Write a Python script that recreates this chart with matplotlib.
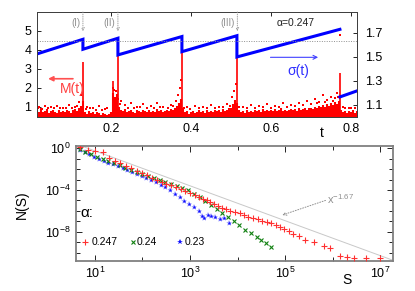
import numpy as np
import matplotlib
matplotlib.use("Agg")
import matplotlib.pyplot as plt
from matplotlib.ticker import FixedLocator, NullFormatter, FuncFormatter

plt.rcParams['font.family'] = ['Liberation Sans', 'DejaVu Sans']
plt.rcParams['mathtext.fontset'] = 'custom'
plt.rcParams['mathtext.rm'] = 'Liberation Sans'
plt.rcParams['mathtext.it'] = 'Liberation Sans:italic'
plt.rcParams['mathtext.sf'] = 'Liberation Sans'

# ---------------- top panel data ----------------
t_base0, t_step = 0.015, 0.005
M_base = [0.8, 0.72, 0.9, 0.7, 0.78, 0.85, 0.68, 0.75, 0.82, 0.7,
          0.66, 0.8, 0.72, 0.76, 0.7, 0.84, 0.74, 0.68, 0.8, 0.86,
          0.75, 0.9, 1.05, 1.3, 0.7, 0.62, 0.75, 0.66, 0.72, 0.6,
          0.7, 0.64, 0.58, 0.66, 0.6, 0.55, 0.62, 0.7, 1.7, 1.5,
          1.65, 1.0, 0.8, 0.75, 0.85, 0.7, 0.78, 0.82, 0.72, 0.68,
          0.8, 0.74, 0.7, 0.83, 0.76, 0.7, 0.8, 0.72, 0.78, 0.7,
          0.85, 0.74, 0.8, 0.72, 0.78, 0.82, 0.76, 0.88, 0.8, 0.95,
          1.05, 1.2, 1.4, 0.9, 0.7, 0.75, 0.62, 0.7, 0.78, 0.66,
          0.72, 0.8, 0.7, 0.75, 0.68, 0.8, 0.72, 0.78, 0.7, 0.84,
          0.74, 0.8, 0.72, 0.86, 0.76, 0.82, 0.9, 0.95, 1.15, 1.35,
          1.2, 0.8, 0.7, 0.76, 0.68, 0.8, 0.72, 0.78, 0.7, 0.82,
          0.75, 0.8, 0.72, 0.85, 0.76, 0.8, 0.74, 0.82, 0.78, 0.86,
          0.74, 0.8, 0.9, 0.78, 0.84, 0.76, 0.82, 0.88, 0.8, 0.85,
          0.78, 0.9, 0.82, 0.86, 0.92, 0.84, 0.9, 0.95, 0.88, 1.0,
          0.92, 1.05, 0.96, 1.1, 1.0, 1.15, 1.05, 1.2, 1.1, 1.25,
          1.15, 1.3, 0.8, 0.7, 0.78, 0.66, 0.74, 0.7, 0.8, 0.68, 0.75]

dot_t = [0.02, 0.035, 0.05, 0.065, 0.08, 0.095, 0.11, 0.12, 0.125, 0.14,
         0.155, 0.17, 0.19, 0.206, 0.208, 0.212, 0.225, 0.235, 0.25, 0.265,
         0.28, 0.3, 0.315, 0.33, 0.35, 0.362, 0.368, 0.372, 0.375, 0.39,
         0.41, 0.43, 0.45, 0.47, 0.49, 0.503, 0.508, 0.512, 0.53, 0.55,
         0.57, 0.59, 0.61, 0.63, 0.65, 0.67, 0.69, 0.71, 0.72, 0.73,
         0.74, 0.75, 0.76, 0.765, 0.78, 0.8, 0.7725,
         0.018, 0.027, 0.042, 0.057, 0.072, 0.088, 0.102, 0.115, 0.138, 0.148,
         0.162, 0.178, 0.186, 0.218, 0.222, 0.242, 0.258, 0.272, 0.29, 0.308,
         0.322, 0.342, 0.356, 0.383, 0.398, 0.42, 0.44, 0.46, 0.48, 0.497,
         0.52, 0.54, 0.56, 0.58, 0.6, 0.62, 0.64, 0.66, 0.68, 0.7,
         0.715, 0.735, 0.755, 0.768, 0.785, 0.795, 0.81]
dot_M = [1.0, 1.05, 0.98, 1.02, 0.95, 1.1, 1.0, 1.25, 1.6, 1.0,
         0.95, 1.05, 0.9, 2.0, 1.9, 1.8, 1.3, 1.1, 1.2, 1.0,
         1.15, 1.05, 1.2, 1.0, 1.1, 1.3, 1.6, 2.0, 2.4, 1.0,
         1.05, 1.0, 1.1, 1.0, 1.15, 1.5, 1.8, 2.2, 1.0, 1.1,
         1.05, 1.15, 1.05, 1.2, 1.1, 1.2, 1.3, 1.4, 1.25, 1.6,
         1.35, 1.5, 1.45, 1.7, 1.0, 0.95, 4.8,
         0.95, 0.88, 0.92, 0.9, 0.93, 0.9, 0.95, 1.05, 0.85, 0.9,
         0.82, 0.8, 0.85, 1.4, 1.15, 0.95, 0.92, 0.98, 0.95, 0.9,
         1.0, 0.95, 1.05, 0.9, 0.85, 0.92, 0.95, 0.9, 1.0, 1.05,
         1.0, 0.92, 0.95, 0.98, 0.95, 1.0, 0.98, 1.05, 1.1, 1.15,
         1.2, 1.25, 1.3, 1.5, 0.9, 0.95, 0.9]

spike_t = [0.13, 0.204, 0.2175, 0.3775, 0.515, 0.7725]
spike_M = [3.37, 2.33, 4.1, 3.85, 4.1, 2.75]

# sigma(t) sawtooth segments
seg_t0 = [0.015, 0.13, 0.2175, 0.3775, 0.515]
seg_s0 = [1.525, 1.564, 1.517, 1.544, 1.50]
seg_t1 = [0.13, 0.2175, 0.3775, 0.515, 0.7725]
seg_s1 = [1.647, 1.656, 1.67, 1.677, 1.73]
last_t = [0.7725, 0.815]
last_s = [1.167, 1.217]
sigma_ref = 1.635

events_t = [0.13, 0.2175, 0.516]
events_lbl = ['(I)', '(II)', '(III)']

# ---------------- bottom panel data ----------------
red_logS = [0.68, 0.85, 1.0, 1.17, 1.3, 1.42, 1.53, 1.65, 1.76, 1.88,
            2.0, 2.1, 2.2, 2.3, 2.4, 2.5, 2.6, 2.7, 2.8, 2.9,
            3.0, 3.1, 3.18, 3.27, 3.35, 3.42, 3.5, 3.58, 3.67, 3.76,
            3.85, 3.95, 4.05, 4.14, 4.23, 4.33, 4.42, 4.52, 4.61, 4.7,
            4.8, 4.89, 4.98, 5.08, 5.17, 5.3, 5.42, 5.6, 5.81, 5.95,
            6.16, 6.3, 6.44, 6.7, 7.0]
red_logN = [0.1, -0.15, -0.3, -0.35, -0.95, -1.2, -1.44, -1.7, -1.9, -2.15,
            -2.4, -2.6, -2.85, -3.05, -3.2, -3.4, -3.55, -3.75, -3.95, -4.1,
            -4.3, -4.5, -4.65, -4.85, -5.0, -5.13, -5.35, -5.55, -5.77, -5.85,
            -6.0, -6.1, -6.25, -6.4, -6.55, -6.73, -6.8, -6.95, -7.06, -7.2,
            -7.4, -7.54, -7.7, -7.95, -8.18, -8.45, -8.75, -8.98, -9.4, -9.6,
            -10.35, -10.4, -10.5, -10.5, -10.5]

green_logS = [0.68, 0.8, 0.92, 1.04, 1.16, 1.28, 1.4, 1.52, 1.64, 1.76,
              1.88, 2.0, 2.12, 2.24, 2.36, 2.48, 2.6, 2.72, 2.84, 2.96,
              3.08, 3.2, 3.32, 3.44, 3.56, 3.68, 3.8, 3.92, 4.04, 4.16,
              4.28, 4.4, 4.5, 4.6, 4.7]
green_logN = [-0.1, -0.35, -0.6, -0.8, -1.05, -1.25, -1.45, -1.65, -1.9, -2.1,
              -2.3, -2.5, -2.7, -2.9, -3.05, -3.25, -3.45, -3.6, -3.8, -4.05,
              -4.35, -4.7, -5.05, -5.4, -5.8, -6.2, -6.6, -7.0, -7.35, -7.8,
              -8.15, -8.5, -8.8, -9.1, -9.45]

blue_logS = [0.68, 0.78, 0.88, 0.98, 1.08, 1.18, 1.28, 1.38, 1.48, 1.58,
             1.68, 1.78, 1.88, 1.98, 2.08, 2.18, 2.28, 2.38, 2.48, 2.58,
             2.68, 2.78, 2.88, 2.98, 3.08, 3.18, 3.25, 3.3, 3.38, 3.45,
             3.52, 3.63, 3.72, 3.81]
blue_logN = [-0.16, -0.4, -0.6, -0.8, -1.0, -1.2, -1.4, -1.55, -1.75, -1.9,
             -2.1, -2.3, -2.5, -2.65, -2.85, -3.05, -3.25, -3.5, -3.75, -4.05,
             -4.35, -4.65, -5.05, -5.3, -5.6, -6.0, -6.5, -6.65, -6.4, -6.45,
             -6.6, -6.8, -6.7, -7.15]

ref_exp = -1.67
ref_logC = 1.41
legend_labels = ['0.247', '0.24', '0.23']

# ---------------- figure ----------------
fig = plt.figure(figsize=(4.15, 2.91), dpi=100)
ax1 = fig.add_axes([0.089, 0.598, 0.771, 0.361])
ax2 = ax1.twinx()

red = '#ff0000'
blue = '#0000ff'
gray = '#909090'

t_base = [t_base0 + i * t_step for i in range(len(M_base))]
ylo = 0.45
ax1.vlines(t_base, ylo, M_base, color=red, lw=1.5)
ax1.vlines(spike_t, ylo, spike_M, color=red, lw=1.2)
ax1.plot(dot_t, dot_M, 's', ms=1.6, color=red, mew=0)

ax1.set_xlim(0.015, 0.815)
ax1.set_ylim(ylo, 6.0)
ax2.set_ylim(1.0, 1.875)

saw_t, saw_s = [], []
for a, b, c, d in zip(seg_t0, seg_s0, seg_t1, seg_s1):
    saw_t += [a, c]
    saw_s += [b, d]
ax2.plot(saw_t, saw_s, color=blue, lw=2.2, solid_joinstyle='miter')
ax2.plot(last_t, last_s, color=blue, lw=2.2)
ax2.axhline(sigma_ref, color=gray, ls=(0, (1, 1.5)), lw=0.7)

for et, lbl in zip(events_t, events_lbl):
    ax2.annotate('', xy=(et, 1.715), xytext=(et, 1.875),
                 arrowprops=dict(arrowstyle='->', ls=':', color=gray, lw=0.6,
                                 mutation_scale=5, shrinkA=0, shrinkB=0))
    ax2.text(et - 0.006, 1.78, lbl, ha='right', va='center', fontsize=7, color=gray)

ax2.text(0.6625, 1.78, 'α=0.247', ha='center', va='center', fontsize=7.5, color='#222222')

ax1.annotate('', xy=(0.036, 2.47), xytext=(0.112, 2.47),
             arrowprops=dict(arrowstyle='-|>', color='#ff5050', lw=1.2, mutation_scale=7))
ax1.text(0.1025, 1.95, 'M(t)', ha='center', va='center', fontsize=10, color='#ff4040')
ax2.annotate('', xy=(0.725, 1.497), xytext=(0.592, 1.497),
             arrowprops=dict(arrowstyle='->', color='#4040ff', lw=0.8, mutation_scale=7))
ax2.text(0.668, 1.383, 'σ(t)', ha='center', va='center', fontsize=10, color='#3030ff')

ax1.set_xticks([0.2, 0.4, 0.6, 0.8])
ax1.set_xticklabels(['0.2', '0.4', '0.6', '0.8'])
ax1.set_yticks([1, 2, 3, 4, 5])
ax2.set_yticks([1.1, 1.3, 1.5, 1.7])
ax1.tick_params(axis='both', direction='in', length=3, width=0.6, labelsize=9, top=True, pad=4)
ax2.tick_params(axis='y', direction='in', length=3, width=0.6, labelsize=9, pad=6)
for ax in (ax1, ax2):
    for sp in ax.spines.values():
        sp.set_color('#404040')
        sp.set_linewidth(0.7)
fig.text(0.776, 0.543, 't', fontsize=10, ha='center', va='center')

# ---------------- bottom panel ----------------
ax3 = fig.add_axes([0.183, 0.103, 0.764, 0.395])
ax3.set_xscale('log')
ax3.set_yscale('log')
ax3.set_xlim(10 ** 0.6, 10 ** 7.27)
ax3.set_ylim(10 ** -10.8, 10 ** 0.2)

xs = np.logspace(0.6, 7.27, 50)
ax3.plot(xs, 10 ** ref_logC * xs ** ref_exp, color='#c8c8c8', lw=0.7, zorder=1)

ax3.plot(10 ** np.array(blue_logS), 10 ** np.array(blue_logN), '*', ms=4.5,
         color='#a8a8ff', mew=0, zorder=2)
ax3.plot(10 ** np.array(blue_logS), 10 ** np.array(blue_logN), '*', ms=3.2,
         color='#1010ff', mew=0, zorder=3)
ax3.plot(10 ** np.array(green_logS), 10 ** np.array(green_logN), 'x', ms=3.2,
         color='#108010', mew=0.8, zorder=4)
ax3.plot(10 ** np.array(red_logS), 10 ** np.array(red_logN), '+', ms=4.2,
         color='#ff3030', mew=0.8, zorder=5)

ax3.annotate('', xy=(10 ** 4.94, 10 ** -6.4), xytext=(10 ** 5.85, 10 ** -5.0),
             arrowprops=dict(arrowstyle='->', ls=':', color=gray, lw=0.7,
                             mutation_scale=6, shrinkA=0, shrinkB=0))
ax3.text(10 ** 5.88, 10 ** -4.9, r'$\mathrm{x}^{-1.67}$', fontsize=8, color=gray,
         ha='left', va='center')

ax3.text(0.015, 0.42, 'α:', transform=ax3.transAxes, fontsize=11, ha='left', va='center')
leg_mx = [0.028, 0.18, 0.328]
leg_tx = [0.05, 0.192, 0.344]
leg_style = [('+', '#ff3030', 4.0, 0.8), ('x', '#108010', 3.0, 0.8), ('*', '#1010ff', 4.0, 0)]
for mx, tx, lbl, (m, c, ms, mew) in zip(leg_mx, leg_tx, legend_labels, leg_style):
    ax3.plot([mx], [0.165], m, color=c, ms=ms, mew=mew, transform=ax3.transAxes,
             clip_on=False)
    ax3.text(tx, 0.165, lbl, transform=ax3.transAxes, fontsize=7.5, ha='left', va='center')

ax3.xaxis.set_major_locator(FixedLocator([10.0 ** k for k in [1, 3, 5, 7]]))
ax3.xaxis.set_minor_locator(FixedLocator([10.0 ** k for k in [1, 2, 3, 4, 5, 6, 7]]))
ax3.yaxis.set_major_locator(FixedLocator([10.0 ** k for k in [0, -4, -8]]))
ax3.yaxis.set_minor_locator(FixedLocator([10.0 ** k for k in range(-10, 1)]))
ax3.xaxis.set_minor_formatter(NullFormatter())
ax3.yaxis.set_minor_formatter(NullFormatter())
fmt = FuncFormatter(lambda v, p: r'$10^{%d}$' % int(round(np.log10(v))))
ax3.xaxis.set_major_formatter(fmt)
ax3.yaxis.set_major_formatter(fmt)
ax3.tick_params(which='both', direction='in', top=True, right=True, width=0.6,
                labelsize=9)
ax3.tick_params(which='major', length=4)
ax3.tick_params(which='minor', length=3)
for sp in ax3.spines.values():
    sp.set_color('#808080')
    sp.set_linewidth(1.3)
fig.text(0.053, 0.296, 'N(S)', rotation=90, fontsize=10, ha='center', va='center')
fig.text(0.836, 0.038, 'S', fontsize=10, ha='center', va='center')

fig.savefig('out.png', dpi=100)
